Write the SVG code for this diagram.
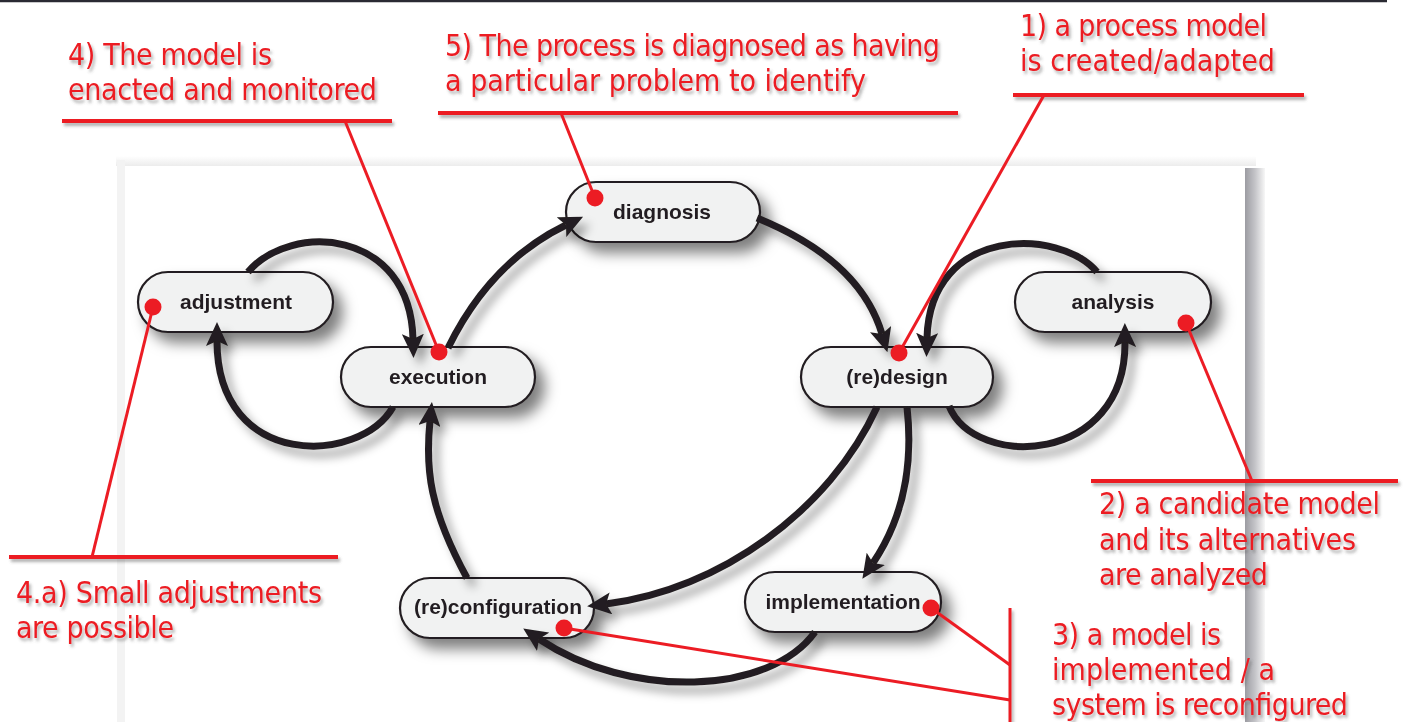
<svg xmlns="http://www.w3.org/2000/svg" width="1404" height="722" viewBox="0 0 1404 722">
<defs>
<style>
.node rect{fill:#f1f2f2;stroke:#231f20;stroke-width:2.2}
.node text{font-family:"Liberation Sans",Arial,sans-serif;font-weight:bold;font-size:21px;fill:#231f20;text-anchor:middle}
.conn path{fill:none;stroke:#231f20;stroke-width:7;marker-end:url(#ah)}
.ann text{font-family:"DejaVu Sans Condensed","DejaVu Sans",sans-serif;font-size:30px;fill:#ec1c24}
.ann .ul{stroke:#ec1c24;stroke-width:4;fill:none}
.ann .ld{stroke:#ec1c24;stroke-width:3;fill:none}
.dot{fill:#ec1c24}
</style>
<marker id="ah" viewBox="0 0 24 22" refX="5" refY="11" markerWidth="24" markerHeight="22" markerUnits="userSpaceOnUse" orient="auto">
<path d="M0,0 L24,11 L0,22 L5,11 z" fill="#231f20"/>
</marker>
<filter id="nsh" x="-20%" y="-30%" width="150%" height="180%">
<feDropShadow dx="9" dy="10" stdDeviation="7" flood-color="#000" flood-opacity="0.5"/>
</filter>
<filter id="csh" x="-20%" y="-20%" width="150%" height="150%">
<feDropShadow dx="7" dy="8" stdDeviation="5" flood-color="#000" flood-opacity="0.35"/>
</filter>
<filter id="tsh" x="-5%" y="-20%" width="115%" height="160%">
<feDropShadow dx="2" dy="3" stdDeviation="1.5" flood-color="#555" flood-opacity="0.45"/>
</filter>
<linearGradient id="rbar" x1="0" y1="0" x2="1" y2="0">
<stop offset="0" stop-color="#9c9ca2"/>
<stop offset="0.5" stop-color="#c4c4c8"/>
<stop offset="1" stop-color="#f7f7f7"/>
</linearGradient>
<linearGradient id="tbar" x1="0" y1="0" x2="0" y2="1">
<stop offset="0" stop-color="#ffffff"/>
<stop offset="1" stop-color="#ececec"/>
</linearGradient>
</defs>
<rect x="0" y="0" width="1404" height="722" fill="#ffffff"/>
<line x1="0" y1="1" x2="1387" y2="1" stroke="#2a2a33" stroke-width="2.5"/>
<g id="panel">
<rect x="116" y="156" width="1140" height="10" fill="url(#tbar)"/>
<rect x="117" y="160" width="8" height="562" fill="#f3f3f3"/>
<rect x="125" y="166" width="1120" height="556" fill="#ffffff"/>
<rect x="1245" y="168" width="20" height="554" fill="url(#rbar)"/>
</g>

<g id="nodes" filter="url(#nsh)">
<g id="node-adjustment" class="node"><rect x="138" y="272" width="195" height="60" rx="30"/><text x="236" y="309">adjustment</text></g>
<g id="node-execution" class="node"><rect x="341" y="347" width="194" height="60" rx="30"/><text x="438" y="384">execution</text></g>
<g id="node-diagnosis" class="node"><rect x="566" y="182" width="194" height="60" rx="30"/><text x="662" y="219">diagnosis</text></g>
<g id="node-redesign" class="node"><rect x="801" y="347" width="192" height="60" rx="30"/><text x="897" y="384">(re)design</text></g>
<g id="node-analysis" class="node"><rect x="1015" y="272" width="196" height="60" rx="30"/><text x="1113" y="309">analysis</text></g>
<g id="node-reconfiguration" class="node"><rect x="400" y="578" width="194" height="60" rx="30"/><text x="498" y="614">(re)configuration</text></g>
<g id="node-implementation" class="node"><rect x="745" y="572" width="196" height="60" rx="30"/><text x="843" y="609">implementation</text></g>
</g>

<g id="connectors" class="conn" filter="url(#csh)">
<path d="M448,348 Q490,262 566,225"/>
<path d="M757,218 Q860,260 882,334"/>
<path d="M949,406 C975,470 1126,465 1125,342"/>
<path d="M1097,272 C1060,228 930,225 927,338"/>
<path d="M907,407 C914,470 902,520 873,563"/>
<path d="M877,407 C830,510 720,590 606,604"/>
<path d="M815,632 C770,695 630,700 539,639"/>
<path d="M467,578 C430,510 425,470 430,421"/>
<path d="M393,407 C360,465 217,470 217,341"/>
<path d="M248,272 C290,222 410,228 413,339"/>
</g>

<g id="annotations" class="ann">
<g filter="url(#tsh)">
<line class="ul" x1="62" y1="121" x2="392" y2="121"/>
<line class="ul" x1="438" y1="113" x2="958" y2="113"/>
<line class="ul" x1="1013" y1="95" x2="1304" y2="95"/>
<line class="ul" x1="1091" y1="481" x2="1398" y2="481"/>
<line class="ul" x1="9" y1="557" x2="338" y2="557"/>
<line class="ld" x1="1010" y1="608" x2="1010" y2="722"/>
</g>
<g id="ann-4" filter="url(#tsh)">
<text x="68" y="65" textLength="204">4) The model is</text>
<text x="68" y="100" textLength="309">enacted and monitored</text>
</g>
<g id="ann-5" filter="url(#tsh)">
<text x="445" y="56" textLength="495">5) The process is diagnosed as having</text>
<text x="445" y="91" textLength="421">a particular problem to identify</text>
</g>
<g id="ann-1" filter="url(#tsh)">
<text x="1020" y="36" textLength="247">1) a process model</text>
<text x="1020" y="71" textLength="255">is created/adapted</text>
</g>
<g id="ann-2" filter="url(#tsh)">
<text x="1099" y="514" textLength="281">2) a candidate model</text>
<text x="1099" y="550" textLength="257">and its alternatives</text>
<text x="1099" y="585" textLength="169">are analyzed</text>
</g>
<g id="ann-4a" filter="url(#tsh)">
<text x="16" y="603" textLength="306">4.a) Small adjustments</text>
<text x="16" y="638" textLength="158">are possible</text>
</g>
<g id="ann-3" filter="url(#tsh)">
<text x="1052" y="645" textLength="169">3) a model is</text>
<text x="1052" y="680" textLength="223">implemented / a</text>
<text x="1052" y="715" textLength="296">system is reconfigured</text>
</g>
<g id="leaders">
<line class="ld" x1="345" y1="121" x2="439" y2="352"/>
<line class="ld" x1="561" y1="113" x2="595" y2="198"/>
<line class="ld" x1="1044" y1="95" x2="899" y2="353"/>
<line class="ld" x1="1186" y1="323" x2="1252" y2="481"/>
<line class="ld" x1="92" y1="557" x2="153" y2="307"/>
<line class="ld" x1="931" y1="608" x2="1010" y2="665"/>
<line class="ld" x1="564" y1="628" x2="1010" y2="700"/>
</g>
<g id="dots">
<circle class="dot" cx="153" cy="307" r="8.5"/>
<circle class="dot" cx="439" cy="352" r="8.5"/>
<circle class="dot" cx="595" cy="198" r="8.5"/>
<circle class="dot" cx="899" cy="353" r="8.5"/>
<circle class="dot" cx="1186" cy="323" r="8.5"/>
<circle class="dot" cx="564" cy="628" r="8.5"/>
<circle class="dot" cx="931" cy="608" r="8.5"/>
</g>
</g>
</svg>
